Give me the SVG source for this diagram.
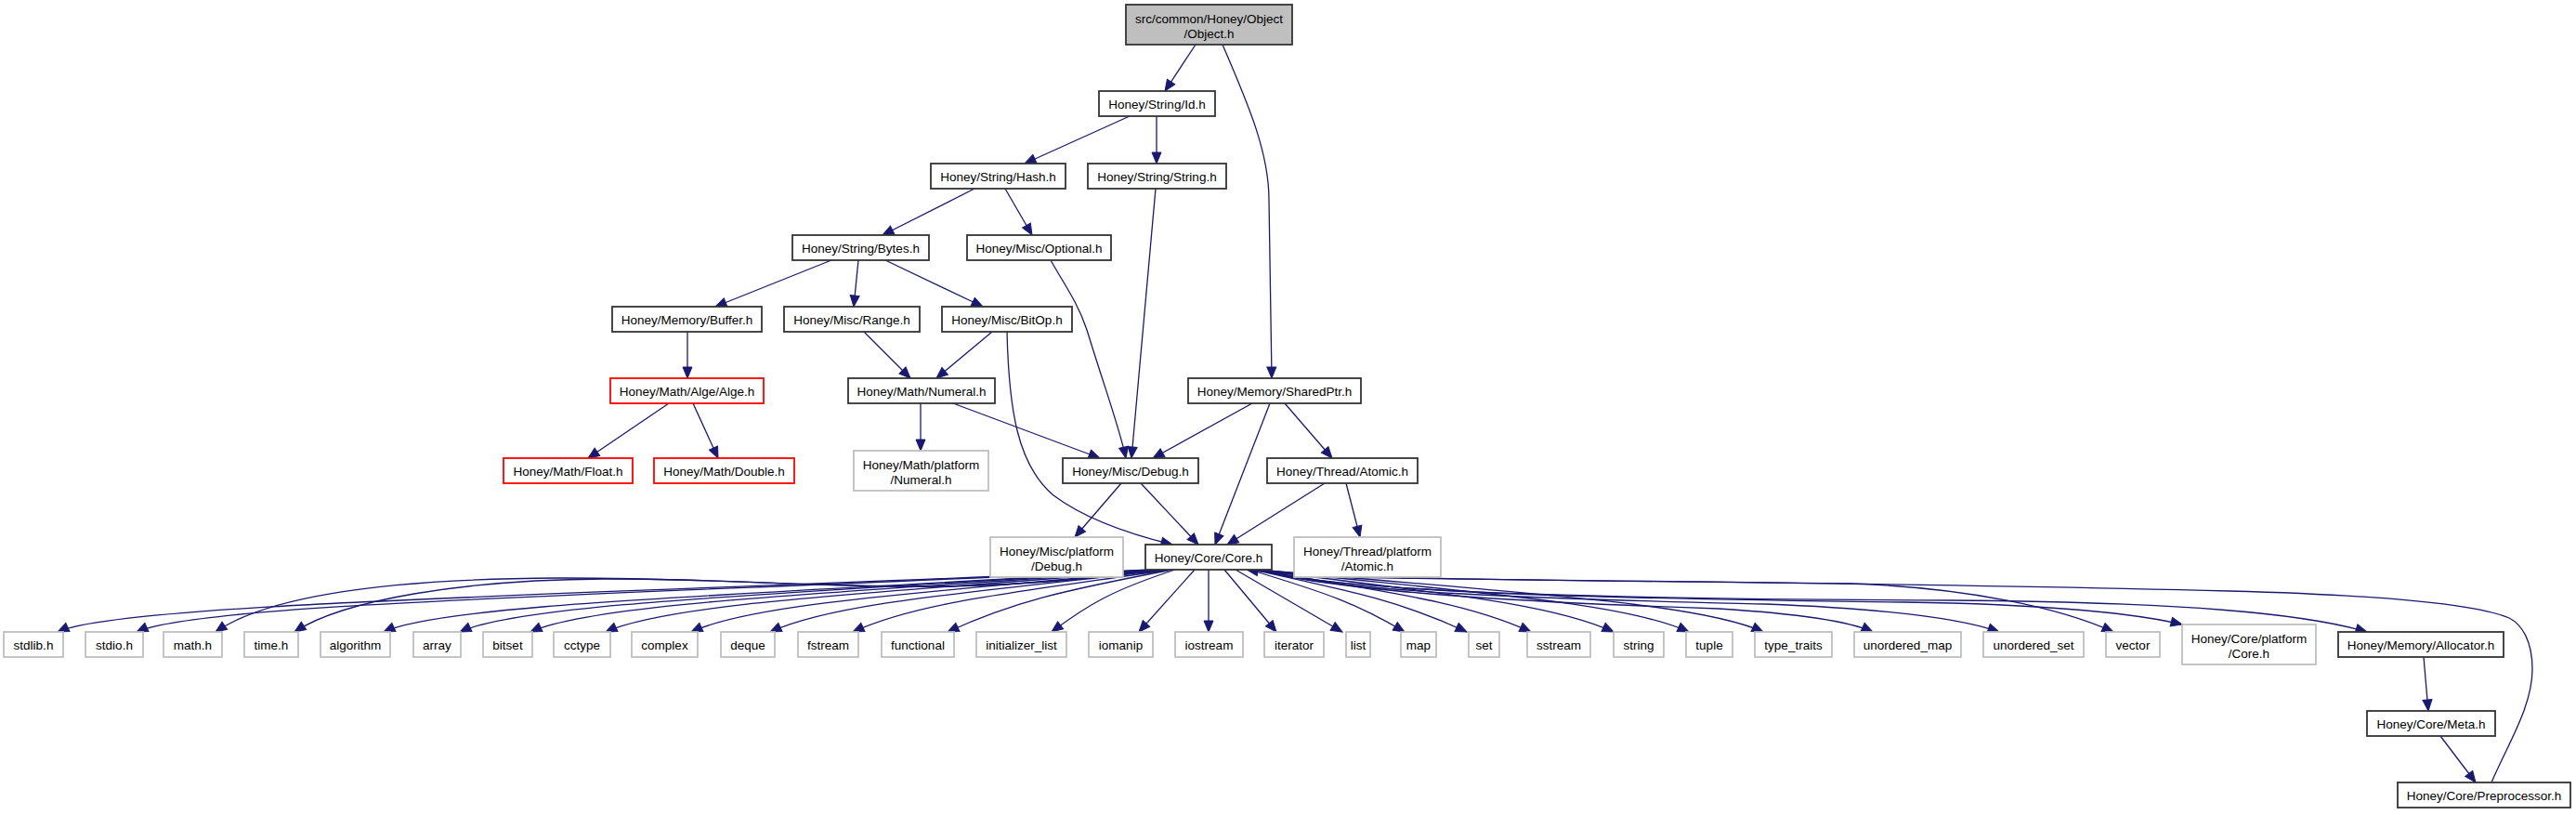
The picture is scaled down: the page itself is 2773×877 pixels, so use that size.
<svg xmlns="http://www.w3.org/2000/svg" width="2773" height="877" viewBox="0 0 2773 877">
<style>
.n rect{fill:#fff;stroke:#333;stroke-width:1.8}
.g rect{stroke:#bfbfbf}
.r rect{stroke:#ff0000}
.root rect{fill:#bfbfbf}
text{font-family:"Liberation Sans",Arial,Helvetica,sans-serif;font-size:13.5px;text-anchor:middle;fill:#000}
#edges path{fill:none;stroke:#191970;stroke-width:1.3;marker-end:url(#arr)}
</style>
<defs>
<marker id="arr" markerUnits="userSpaceOnUse" markerWidth="13" markerHeight="11" refX="12" refY="5" orient="auto" overflow="visible">
<path d="M0,0 L12,5 L0,10 Z" fill="#191970" stroke="#191970" stroke-width="1"/>
</marker>
</defs>
<rect width="2773" height="877" fill="#fff"/>
<g id="edges">
<path d="M1287,48 L1254,98"/>
<path d="M1316,48 C1345,115 1366,165 1366,215 L1369,407"/>
<path d="M1216,125 L1103,176"/>
<path d="M1245,125 L1245,176"/>
<path d="M1082,203 L1111,253"/>
<path d="M1049,203 L950,253"/>
<path d="M1244,203 L1218,493"/>
<path d="M1131,280 C1145,305 1160,325 1170,355 C1190,420 1205,460 1212,493"/>
<path d="M895,280 L770,330"/>
<path d="M924,280 L919,330"/>
<path d="M953,280 L1058,330"/>
<path d="M740,357 L740,407"/>
<path d="M930,357 L980,407"/>
<path d="M1068,357 L1008,407"/>
<path d="M1084,357 C1086,440 1095,500 1134,533 C1170,560 1225,577 1262,586"/>
<path d="M720,434 L633,493"/>
<path d="M746,434 L773,493"/>
<path d="M991,434 L991,485"/>
<path d="M1026,434 L1184,493"/>
<path d="M1348,434 L1241,493"/>
<path d="M1367,434 L1308,586"/>
<path d="M1383,434 L1434,493"/>
<path d="M1207,520 L1157,578"/>
<path d="M1228,520 L1290,586"/>
<path d="M1426,520 L1321,586"/>
<path d="M1449,520 L1464,578"/>
<path d="M2609,707 L2614,765"/>
<path d="M2627,792 L2665,842"/>
<path d="M2682,842 C2700,800 2726,760 2726,720 C2726,690 2715,672 2701,665 C2660,648 2550,640 2400,636 C2100,628 1700,625 1500,622 C1420,621 1380,618 1342,613"/>
<path d="M1240,613 C651,640 132,648 62,680"/>
<path d="M1242,613 C694,640 217,648 147,680"/>
<path d="M1244,613 C1000,648 850,621 600,622 C420,623 290,640 232,680"/>
<path d="M1246,613 C1000,648 860,622 650,623 C500,624 370,645 317,680"/>
<path d="M1248,613 C830,640 483,648 413,680"/>
<path d="M1250,613 C872,638 565,648 495,680"/>
<path d="M1252,613 C911,638 641,648 571,680"/>
<path d="M1254,613 C953,638 722,648 652,680"/>
<path d="M1256,613 C1000,638 814,648 744,680"/>
<path d="M1258,613 C1043,638 899,648 829,680"/>
<path d="M1260,613 C1089,638 988,648 918,680"/>
<path d="M1262,613 C1141,636 1090,648 1020,680"/>
<path d="M1265,613 C1198,635 1172,650 1132,680"/>
<path d="M1286,613 L1226,680"/>
<path d="M1301,613 L1301,680"/>
<path d="M1318,613 L1374,680"/>
<path d="M1330,613 L1445,680"/>
<path d="M1345,613 C1428,638 1462,650 1512,680"/>
<path d="M1348,613 C1463,638 1510,648 1579,680"/>
<path d="M1350,613 C1499,638 1578,648 1648,680"/>
<path d="M1352,613 C1544,638 1667,648 1737,680"/>
<path d="M1354,613 C1586,638 1748,648 1818,680"/>
<path d="M1356,613 C1627,638 1828,648 1898,680"/>
<path d="M1355,613 C1450,640 1700,650 1850,655 C1930,660 1990,668 2016,680"/>
<path d="M1355,613 C1450,640 1700,645 1900,650 C2030,655 2110,665 2152,680"/>
<path d="M1352,613 C1450,625 1800,625 1990,628 C2120,632 2220,655 2275,680"/>
<path d="M1356,613 C1450,640 1800,645 2050,648 C2200,650 2300,660 2349,672"/>
<path d="M1358,613 C1450,640 1800,645 2100,646 C2350,648 2480,660 2548,680"/>
</g>
<g id="node_object" class="n root"><rect x="1212" y="5" width="179" height="43"/><text x="1301.5" y="24.5">src/common/Honey/Object</text><text x="1301.5" y="40.5">/Object.h</text></g>
<g id="node_id" class="n"><rect x="1183" y="98" width="125" height="27"/><text x="1245.5" y="117">Honey/String/Id.h</text></g>
<g id="node_hash" class="n"><rect x="1002" y="176" width="145" height="27"/><text x="1074.5" y="195">Honey/String/Hash.h</text></g>
<g id="node_string" class="n"><rect x="1171" y="176" width="149" height="27"/><text x="1245.5" y="195">Honey/String/String.h</text></g>
<g id="node_bytes" class="n"><rect x="853" y="253" width="147" height="27"/><text x="926.5" y="272">Honey/String/Bytes.h</text></g>
<g id="node_optional" class="n"><rect x="1041" y="253" width="155" height="27"/><text x="1118.5" y="272">Honey/Misc/Optional.h</text></g>
<g id="node_buffer" class="n"><rect x="659" y="330" width="161" height="27"/><text x="739.5" y="349">Honey/Memory/Buffer.h</text></g>
<g id="node_range" class="n"><rect x="844" y="330" width="146" height="27"/><text x="917" y="349">Honey/Misc/Range.h</text></g>
<g id="node_bitop" class="n"><rect x="1014" y="330" width="140" height="27"/><text x="1084" y="349">Honey/Misc/BitOp.h</text></g>
<g id="node_alge" class="n r"><rect x="657" y="407" width="165" height="27"/><text x="739.5" y="426">Honey/Math/Alge/Alge.h</text></g>
<g id="node_numeral" class="n"><rect x="913" y="407" width="158" height="27"/><text x="992" y="426">Honey/Math/Numeral.h</text></g>
<g id="node_sharedptr" class="n"><rect x="1279" y="407" width="186" height="27"/><text x="1372" y="426">Honey/Memory/SharedPtr.h</text></g>
<g id="node_float" class="n r"><rect x="542" y="493" width="139" height="27"/><text x="611.5" y="512">Honey/Math/Float.h</text></g>
<g id="node_double" class="n r"><rect x="704" y="493" width="151" height="27"/><text x="779.5" y="512">Honey/Math/Double.h</text></g>
<g id="node_platnumeral" class="n g"><rect x="919" y="485" width="145" height="43"/><text x="991.5" y="504.5">Honey/Math/platform</text><text x="991.5" y="520.5">/Numeral.h</text></g>
<g id="node_debug" class="n"><rect x="1144" y="493" width="146" height="27"/><text x="1217" y="512">Honey/Misc/Debug.h</text></g>
<g id="node_atomic" class="n"><rect x="1364" y="493" width="162" height="27"/><text x="1445" y="512">Honey/Thread/Atomic.h</text></g>
<g id="node_platdebug" class="n g"><rect x="1066" y="578" width="143" height="43"/><text x="1137.5" y="597.5">Honey/Misc/platform</text><text x="1137.5" y="613.5">/Debug.h</text></g>
<g id="node_core" class="n"><rect x="1233" y="586" width="136" height="27"/><text x="1301" y="605">Honey/Core/Core.h</text></g>
<g id="node_platatomic" class="n g"><rect x="1393" y="578" width="158" height="43"/><text x="1472" y="597.5">Honey/Thread/platform</text><text x="1472" y="613.5">/Atomic.h</text></g>
<g id="node_stdlib" class="n g"><rect x="4" y="680" width="64" height="27"/><text x="36" y="699">stdlib.h</text></g>
<g id="node_stdio" class="n g"><rect x="92" y="680" width="62" height="27"/><text x="123" y="699">stdio.h</text></g>
<g id="node_math" class="n g"><rect x="176" y="680" width="63" height="27"/><text x="207.5" y="699">math.h</text></g>
<g id="node_time" class="n g"><rect x="263" y="680" width="58" height="27"/><text x="292" y="699">time.h</text></g>
<g id="node_algorithm" class="n g"><rect x="345" y="680" width="75" height="27"/><text x="382.5" y="699">algorithm</text></g>
<g id="node_array" class="n g"><rect x="445" y="680" width="51" height="27"/><text x="470.5" y="699">array</text></g>
<g id="node_bitset" class="n g"><rect x="520" y="680" width="53" height="27"/><text x="546.5" y="699">bitset</text></g>
<g id="node_cctype" class="n g"><rect x="596" y="680" width="61" height="27"/><text x="626.5" y="699">cctype</text></g>
<g id="node_complex" class="n g"><rect x="680" y="680" width="71" height="27"/><text x="715.5" y="699">complex</text></g>
<g id="node_deque" class="n g"><rect x="776" y="680" width="58" height="27"/><text x="805" y="699">deque</text></g>
<g id="node_fstream" class="n g"><rect x="859" y="680" width="65" height="27"/><text x="891.5" y="699">fstream</text></g>
<g id="node_functional" class="n g"><rect x="949" y="680" width="78" height="27"/><text x="988" y="699">functional</text></g>
<g id="node_initializer_list" class="n g"><rect x="1051" y="680" width="97" height="27"/><text x="1099.5" y="699">initializer_list</text></g>
<g id="node_iomanip" class="n g"><rect x="1172" y="680" width="69" height="27"/><text x="1206.5" y="699">iomanip</text></g>
<g id="node_iostream" class="n g"><rect x="1265" y="680" width="73" height="27"/><text x="1301.5" y="699">iostream</text></g>
<g id="node_iterator" class="n g"><rect x="1361" y="680" width="64" height="27"/><text x="1393" y="699">iterator</text></g>
<g id="node_list" class="n g"><rect x="1449" y="680" width="26" height="27"/><text x="1462" y="699">list</text></g>
<g id="node_map" class="n g"><rect x="1508" y="680" width="38" height="27"/><text x="1527" y="699">map</text></g>
<g id="node_set" class="n g"><rect x="1581" y="680" width="33" height="27"/><text x="1597.5" y="699">set</text></g>
<g id="node_sstream" class="n g"><rect x="1644" y="680" width="68" height="27"/><text x="1678" y="699">sstream</text></g>
<g id="node_stringstd" class="n g"><rect x="1737" y="680" width="54" height="27"/><text x="1764" y="699">string</text></g>
<g id="node_tuple" class="n g"><rect x="1815" y="680" width="50" height="27"/><text x="1840" y="699">tuple</text></g>
<g id="node_type_traits" class="n g"><rect x="1889" y="680" width="83" height="27"/><text x="1930.5" y="699">type_traits</text></g>
<g id="node_unordered_map" class="n g"><rect x="1996" y="680" width="115" height="27"/><text x="2053.5" y="699">unordered_map</text></g>
<g id="node_unordered_set" class="n g"><rect x="2135" y="680" width="108" height="27"/><text x="2189" y="699">unordered_set</text></g>
<g id="node_vector" class="n g"><rect x="2267" y="680" width="58" height="27"/><text x="2296" y="699">vector</text></g>
<g id="node_platcore" class="n g"><rect x="2349" y="672" width="144" height="43"/><text x="2421" y="691.5">Honey/Core/platform</text><text x="2421" y="707.5">/Core.h</text></g>
<g id="node_allocator" class="n"><rect x="2517" y="680" width="178" height="27"/><text x="2606" y="699">Honey/Memory/Allocator.h</text></g>
<g id="node_meta" class="n"><rect x="2548" y="765" width="138" height="27"/><text x="2617" y="784">Honey/Core/Meta.h</text></g>
<g id="node_preprocessor" class="n"><rect x="2581" y="842" width="186" height="27"/><text x="2674" y="861">Honey/Core/Preprocessor.h</text></g>
</svg>
